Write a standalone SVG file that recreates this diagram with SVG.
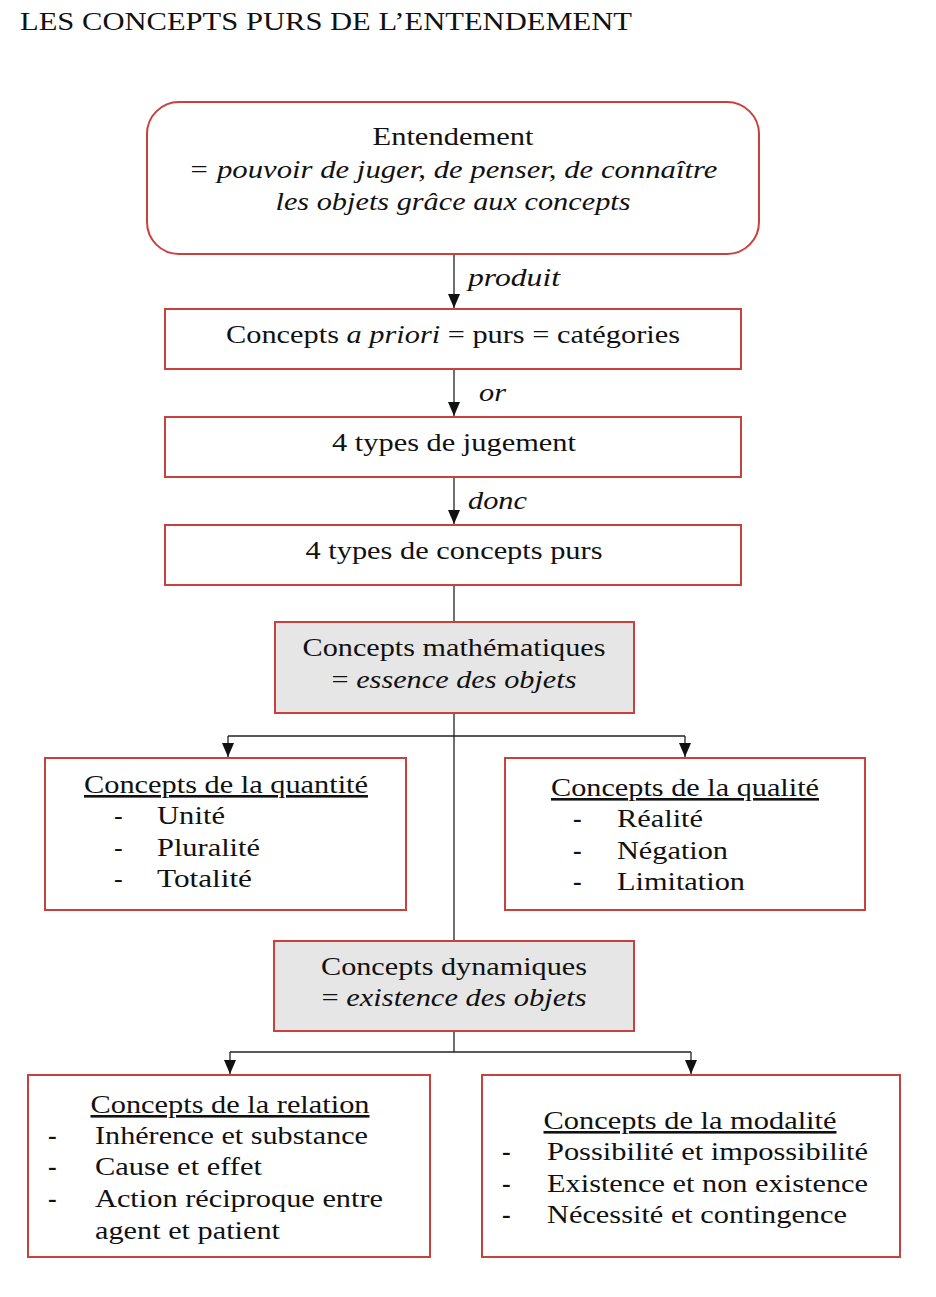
<svg xmlns="http://www.w3.org/2000/svg" width="936" height="1297" viewBox="0 0 936 1297">
<style>
text{font-family:"Liberation Serif","Times New Roman",serif;fill:#111;font-size:26px}
.box{fill:#fff;stroke:#c9413d;stroke-width:2}
.grey{fill:#e6e6e6;stroke:#c9413d;stroke-width:2}
.c{text-anchor:middle}
.i{font-style:italic}
.u{text-decoration:underline}
.ln{stroke:#222;stroke-width:1.3;fill:none}
.d{font-weight:bold}
</style>
<defs>
<marker id="ah" markerWidth="14" markerHeight="12" refX="14" refY="6" orient="auto" markerUnits="userSpaceOnUse" viewBox="0 0 14 12">
<path d="M0,0 L14,6 L0,12 Z" fill="#111"/>
</marker>
</defs>
<rect width="936" height="1297" fill="#fff"/>
<text x="20" y="30" font-size="23" textLength="612" lengthAdjust="spacingAndGlyphs">LES CONCEPTS PURS DE L’ENTENDEMENT</text>

<g id="connectors">
<line class="ln" x1="454" y1="254" x2="454" y2="308" marker-end="url(#ah)"/>
<line class="ln" x1="454" y1="369" x2="454" y2="416" marker-end="url(#ah)"/>
<line class="ln" x1="454" y1="477" x2="454" y2="524" marker-end="url(#ah)"/>
<line class="ln" x1="454" y1="585" x2="454" y2="622"/>
<line class="ln" x1="454" y1="713" x2="454" y2="941"/>
<line class="ln" x1="228" y1="736" x2="685" y2="736"/>
<line class="ln" x1="228" y1="736" x2="228" y2="757" marker-end="url(#ah)"/>
<line class="ln" x1="685" y1="736" x2="685" y2="757" marker-end="url(#ah)"/>
<line class="ln" x1="454" y1="1031" x2="454" y2="1052"/>
<line class="ln" x1="230" y1="1052" x2="691" y2="1052"/>
<line class="ln" x1="230" y1="1052" x2="230" y2="1074" marker-end="url(#ah)"/>
<line class="ln" x1="691" y1="1052" x2="691" y2="1074" marker-end="url(#ah)"/>
<text class="i" x="468" y="286" textLength="92" lengthAdjust="spacingAndGlyphs">produit</text>
<text class="i" x="479" y="401" textLength="27" lengthAdjust="spacingAndGlyphs">or</text>
<text class="i" x="468" y="509" textLength="59" lengthAdjust="spacingAndGlyphs">donc</text>
</g>

<g id="entendement">
<rect class="box" x="147" y="102" width="612" height="152" rx="32"/>
<text class="c" x="453" y="145" textLength="161" lengthAdjust="spacingAndGlyphs">Entendement</text>
<text class="c i" x="453" y="178" textLength="529" lengthAdjust="spacingAndGlyphs">= pouvoir de juger, de penser, de connaître</text>
<text class="c i" x="453" y="210" textLength="355" lengthAdjust="spacingAndGlyphs">les objets grâce aux concepts</text>
</g>

<g id="concepts-a-priori">
<rect class="box" x="165" y="309" width="576" height="60"/>
<text class="c" x="453" y="343" textLength="454" lengthAdjust="spacingAndGlyphs">Concepts <tspan class="i">a priori</tspan> = purs = catégories</text>
</g>

<g id="types-jugement">
<rect class="box" x="165" y="417" width="576" height="60"/>
<text class="c" x="454" y="451" textLength="244" lengthAdjust="spacingAndGlyphs">4 types de jugement</text>
</g>

<g id="types-concepts">
<rect class="box" x="165" y="525" width="576" height="60"/>
<text class="c" x="454" y="559" textLength="297" lengthAdjust="spacingAndGlyphs">4 types de concepts purs</text>
</g>

<g id="mathematiques">
<rect class="grey" x="275" y="622" width="359" height="91"/>
<text class="c" x="454" y="656" textLength="303" lengthAdjust="spacingAndGlyphs">Concepts mathématiques</text>
<text class="c" x="454" y="688" textLength="245" lengthAdjust="spacingAndGlyphs">= <tspan class="i">essence des objets</tspan></text>
</g>

<g id="quantite">
<rect class="box" x="45" y="758" width="361" height="152"/>
<text class="c u" x="226" y="793" textLength="284" lengthAdjust="spacingAndGlyphs">Concepts de la quantité</text>
<text x="114" y="824">-</text><text x="157" y="824" textLength="68" lengthAdjust="spacingAndGlyphs">Unité</text>
<text x="114" y="856">-</text><text x="157" y="856" textLength="103" lengthAdjust="spacingAndGlyphs">Pluralité</text>
<text x="114" y="887">-</text><text x="157" y="887" textLength="95" lengthAdjust="spacingAndGlyphs">Totalité</text>
</g>

<g id="qualite">
<rect class="box" x="505" y="758" width="360" height="152"/>
<text class="c u" x="685" y="796" textLength="268" lengthAdjust="spacingAndGlyphs">Concepts de la qualité</text>
<text class="d" x="573" y="827">-</text><text x="617" y="827" textLength="86" lengthAdjust="spacingAndGlyphs">Réalité</text>
<text class="d" x="573" y="859">-</text><text x="617" y="859" textLength="111" lengthAdjust="spacingAndGlyphs">Négation</text>
<text class="d" x="573" y="890">-</text><text x="617" y="890" textLength="128" lengthAdjust="spacingAndGlyphs">Limitation</text>
</g>

<g id="dynamiques">
<rect class="grey" x="274" y="941" width="360" height="90"/>
<text class="c" x="454" y="975" textLength="266" lengthAdjust="spacingAndGlyphs">Concepts dynamiques</text>
<text class="c" x="454" y="1006" textLength="265" lengthAdjust="spacingAndGlyphs">= <tspan class="i">existence des objets</tspan></text>
</g>

<g id="relation">
<rect class="box" x="28" y="1075" width="402" height="182"/>
<text class="c u" x="230" y="1113" textLength="279" lengthAdjust="spacingAndGlyphs">Concepts de la relation</text>
<text class="d" x="48" y="1144">-</text><text x="95" y="1144" textLength="273" lengthAdjust="spacingAndGlyphs">Inhérence et substance</text>
<text class="d" x="48" y="1175">-</text><text x="95" y="1175" textLength="167" lengthAdjust="spacingAndGlyphs">Cause et effet</text>
<text class="d" x="48" y="1207">-</text><text x="95" y="1207" textLength="288" lengthAdjust="spacingAndGlyphs">Action réciproque entre</text>
<text x="95" y="1239" textLength="185" lengthAdjust="spacingAndGlyphs">agent et patient</text>
</g>

<g id="modalite">
<rect class="box" x="482" y="1075" width="418" height="182"/>
<text class="c u" x="690" y="1129" textLength="293" lengthAdjust="spacingAndGlyphs">Concepts de la modalité</text>
<text class="d" x="502" y="1160">-</text><text x="547" y="1160" textLength="321" lengthAdjust="spacingAndGlyphs">Possibilité et impossibilité</text>
<text class="d" x="502" y="1192">-</text><text x="547" y="1192" textLength="321" lengthAdjust="spacingAndGlyphs">Existence et non existence</text>
<text class="d" x="502" y="1223">-</text><text x="547" y="1223" textLength="300" lengthAdjust="spacingAndGlyphs">Nécessité et contingence</text>
</g>
</svg>
